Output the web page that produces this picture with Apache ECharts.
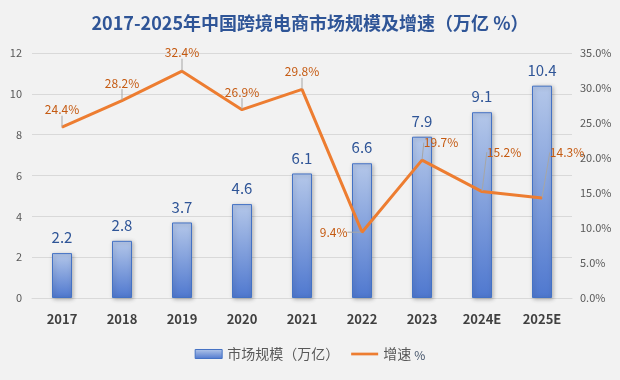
<!DOCTYPE html>
<html><head><meta charset="utf-8">
<script src="https://cdn.jsdelivr.net/npm/echarts@6/dist/echarts.min.js"></script>
<style>html,body{margin:0;padding:0;background:#f2f2f2}#c{width:620px;height:380px}</style>
</head><body><div id="c"></div>
<script>
const categories = ['2017','2018','2019','2020','2021','2022','2023','2024E','2025E'];
const marketSize = [2.2, 2.8, 3.7, 4.6, 6.1, 6.6, 7.9, 9.1, 10.4];
const growthRate = [24.4, 28.2, 32.4, 26.9, 29.8, 9.4, 19.7, 15.2, 14.3];
const leftTicks = {min: 0, max: 12, interval: 2};
const rightTicks = {min: 0, max: 35, interval: 5};

const chart = echarts.init(document.getElementById('c'), null, {renderer: 'canvas'});
const FONT = '"Microsoft YaHei","Noto Sans CJK SC","Noto Sans",sans-serif';
const barGrad = new echarts.graphic.LinearGradient(0, 0, 0, 1, [
  {offset: 0, color: '#b4c7e9'}, {offset: 1, color: '#4f78cf'}
]);
const lineLabelPos = ['top','top','top','top','top','left','top','top','top'];
const lineLabelPad = [[0,0,6,0],[0,0,6,0],[0,0,7,0],[0,0,6,0],[0,0,6,0],[0,9,0,0],0,0,0];
const leaderShift = [null,null,null,null,null,null,[19,-6],[22,-28],[25,-34]];

chart.setOption({
  backgroundColor: '#f2f2f2',
  animation: false,
  textStyle: {fontFamily: FONT},
  title: {
    text: '2017-2025年中国跨境电商市场规模及增速（万亿 %）',
    left: 'center', top: 9,
    textStyle: {fontSize: 18, fontWeight: 'bold', color: '#2f5597', fontFamily: FONT}
  },
  grid: {left: 32, right: 48, top: 53, bottom: 82, containLabel: false},
  legend: {
    bottom: 14, left: 'center', itemGap: 12, itemWidth: 27, itemHeight: 9,
    textStyle: {fontSize: 14, color: '#595959', fontFamily: FONT,
      rich: {p: {fontSize: 12, color: '#44546a', padding: [2,0,0,0]}}},
    formatter: n => n === '增速 %' ? '增速 {p|%}' : n,
    data: [
      {name: '市场规模（万亿）', icon: 'rect', itemStyle: {color: barGrad, borderColor: '#4472c4', borderWidth: 1}},
      {name: '增速 %', icon: 'path://M0,0 L30,0 L30,3 L0,3 Z', itemStyle: {color: '#ed7d31'}}
    ]
  },
  xAxis: {
    type: 'category', data: categories,
    axisLine: {show: true, lineStyle: {color: '#d9d9d9'}},
    axisTick: {show: false},
    axisLabel: {fontSize: 13, fontWeight: 'bold', color: '#404040', margin: 15}
  },
  yAxis: [
    {type: 'value', min: leftTicks.min, max: leftTicks.max, interval: leftTicks.interval,
     axisLine: {show: false}, axisTick: {show: false},
     splitLine: {lineStyle: {color: '#d9d9d9'}},
     axisLabel: {fontSize: 11, color: '#595959', margin: 10}},
    {type: 'value', min: rightTicks.min, max: rightTicks.max, interval: rightTicks.interval,
     axisLine: {show: false}, axisTick: {show: false}, splitLine: {show: false},
     axisLabel: {fontSize: 11, color: '#595959', margin: 8, formatter: v => v.toFixed(1) + '%'}}
  ],
  series: [
    {name: '市场规模（万亿）', type: 'bar', data: marketSize, barWidth: 20, yAxisIndex: 0, z: 1,
     itemStyle: {color: barGrad, borderColor: '#4472c4', borderWidth: 1,
       shadowBlur: 4, shadowColor: 'rgba(0,0,0,0.25)', shadowOffsetX: 1, shadowOffsetY: 1},
     label: {show: true, position: 'top', distance: 8, fontSize: 15, color: '#2f5597'}},
    {name: '增速 %', type: 'line', yAxisIndex: 1, symbol: 'circle', symbolSize: 1, showSymbol: true,
     z: 10,
     lineStyle: {color: '#ed7d31', width: 3},
     itemStyle: {color: '#ed7d31'},
     data: growthRate.map((v, i) => ({
       value: v,
       label: {position: lineLabelPos[i], padding: lineLabelPad[i]}
     })),
     label: {show: true, fontSize: 12, color: '#c55a11', distance: 5,
       formatter: p => p.value.toFixed(1) + '%'},
     labelLine: {show: true, lineStyle: {color: '#a6a6a6', width: 1}},
     labelLayout: p => {
       const s = leaderShift[p.dataIndex];
       return s ? {dx: s[0], dy: s[1]} : {};
     }}
  ]
});
</script></body></html>
